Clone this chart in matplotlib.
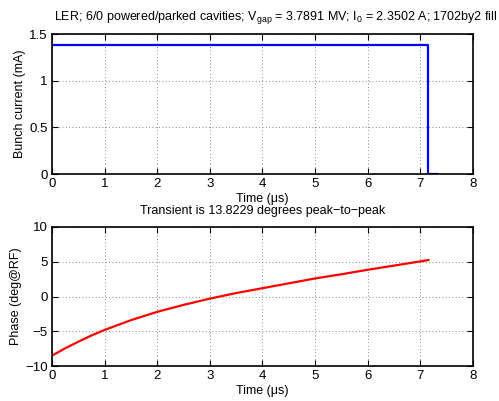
import matplotlib
matplotlib.use("Agg")
import matplotlib.pyplot as plt

plt.rcParams['font.family'] = ['Liberation Sans', 'DejaVu Sans']
plt.rcParams['mathtext.fontset'] = 'custom'
plt.rcParams['mathtext.rm'] = 'Liberation Sans'
plt.rcParams['mathtext.it'] = 'Liberation Sans'
plt.rcParams['font.size'] = 9

# Bunch current (step profile)
t_current = [0.0, 7.15, 7.15, 7.32]
current = [1.38, 1.38, 0.0, 0.0]

# Phase transient
t_phase = [0.0, 0.25, 0.5, 0.75, 1.0, 1.5, 2.0, 2.5, 3.0, 3.5, 4.0, 4.5, 5.0, 5.5, 6.0, 6.5, 7.0, 7.15]
phase = [-8.5, -7.45, -6.5, -5.6, -4.8, -3.4, -2.2, -1.2, -0.3, 0.5, 1.2, 1.9, 2.6, 3.2, 3.85, 4.45, 5.05, 5.25]

xticks = [0, 1, 2, 3, 4, 5, 6, 7, 8]

fig = plt.figure(figsize=(4.99, 4.01), dpi=100)
ax1 = fig.add_axes([0.104, 0.566, 0.844, 0.349])
ax2 = fig.add_axes([0.104, 0.087, 0.844, 0.347])

for ax in (ax1, ax2):
    ax.set_xlim(0, 8)
    ax.set_xticks(xticks)
    ax.grid(True, linestyle=(0, (1, 3)), color='#666666', linewidth=0.6)
    ax.tick_params(direction='in', top=True, right=True, length=4, width=0.8, labelsize=9.5, pad=3)
    for s in ax.spines.values():
        s.set_linewidth(1.2)
    ax.set_xlabel('Time (μs)', labelpad=2)

ax1.plot(t_current, current, color='#0000ff', linewidth=1.6)
ax1.set_ylim(0, 1.5)
ax1.set_yticks([0, 0.5, 1, 1.5])
ax1.set_yticklabels(['0', '0.5', '1', '1.5'])
ax1.set_ylabel('Bunch current (mA)', labelpad=2)

ax2.plot(t_phase, phase, color='#ff0000', linewidth=1.6)
ax2.set_ylim(-10, 10)
ax2.set_yticks([-10, -5, 0, 5, 10])
ax2.set_yticklabels(['−10', '−5', '0', '5', '10'])
ax2.set_ylabel('Phase (deg@RF)', labelpad=2)
ax2.set_title('Transient is 13.8229 degrees peak−to−peak', fontsize=9, pad=9)

fig.text(0.553, 0.957, 'LER; 6/0 powered/parked cavities; V$_{\\mathrm{gap}}$ = 3.7891 MV; I$_{0}$ = 2.3502 A; 1702by2 fill',
         ha='center', va='center', fontsize=9)

fig.savefig('out.png', dpi=100)
